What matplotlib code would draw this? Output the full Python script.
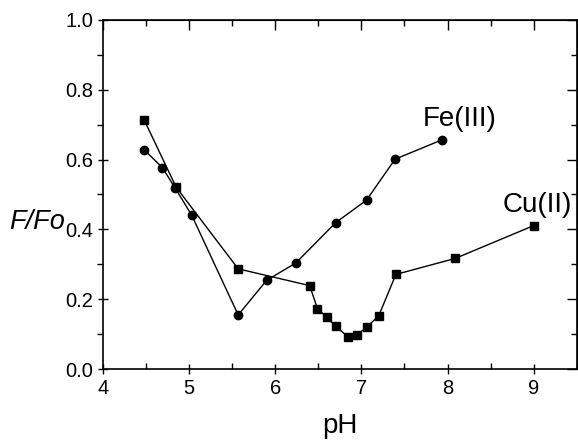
import matplotlib.pyplot as plt
from matplotlib.ticker import MultipleLocator

plt.rcParams['font.family'] = ['Liberation Sans', 'DejaVu Sans']

# Fe(III) quenching vs pH
fe_ph = [4.48, 4.69, 4.84, 5.03, 5.57, 5.90, 6.24, 6.70, 7.06, 7.39, 7.93]
fe_f = [0.628, 0.577, 0.518, 0.441, 0.155, 0.254, 0.304, 0.419, 0.484, 0.601, 0.656]

# Cu(II) quenching vs pH
cu_ph = [4.48, 4.85, 5.57, 6.40, 6.49, 6.60, 6.70, 6.85, 6.95, 7.06, 7.20, 7.40, 8.09, 9.00]
cu_f = [0.713, 0.521, 0.287, 0.239, 0.173, 0.148, 0.123, 0.091, 0.098, 0.120, 0.152, 0.271, 0.317, 0.411]

fig = plt.figure(figsize=(5.78, 4.42), dpi=100)
ax = fig.add_axes([0.178, 0.165, 0.82, 0.79])

ax.plot(fe_ph, fe_f, '-o', color='black', lw=1.0, ms=6)
ax.plot(cu_ph, cu_f, '-s', color='black', lw=1.0, ms=5.5)

ax.text(8.14, 0.715, 'Fe(III)', fontsize=20, ha='center', va='center')
ax.text(9.04, 0.469, 'Cu(II)', fontsize=20, ha='center', va='center')

ax.set_xlim(4, 9.5)
ax.set_ylim(0, 1.0)
ax.xaxis.set_major_locator(MultipleLocator(1))
ax.xaxis.set_minor_locator(MultipleLocator(0.5))
ax.yaxis.set_major_locator(MultipleLocator(0.2))
ax.yaxis.set_minor_locator(MultipleLocator(0.1))
ax.yaxis.set_major_formatter(lambda v, p: f'{v:.1f}')

ax.tick_params(axis='x', which='major', direction='inout', length=7, width=1, labelsize=14.5)
ax.tick_params(axis='x', which='minor', direction='in', length=4, width=1)
ax.tick_params(axis='y', which='major', direction='inout', length=7, width=1, labelsize=14.5)
ax.tick_params(axis='y', which='minor', direction='out', length=4, width=1)

top = ax.secondary_xaxis('top')
top.xaxis.set_major_locator(MultipleLocator(1))
top.xaxis.set_minor_locator(MultipleLocator(0.5))
top.tick_params(which='major', direction='in', length=7, width=1, labeltop=False)
top.tick_params(which='minor', direction='in', length=4, width=1)
right = ax.secondary_yaxis('right')
right.yaxis.set_major_locator(MultipleLocator(0.2))
right.yaxis.set_minor_locator(MultipleLocator(0.1))
right.tick_params(which='major', direction='in', length=7, width=1, labelright=False)
right.tick_params(which='minor', direction='in', length=4, width=1)

for s in ax.spines.values():
    s.set_linewidth(1.2)

ax.set_xlabel('pH', fontsize=20, labelpad=11)
ax.set_ylabel('F/Fo', fontsize=19.5, style='italic', rotation=0, ha='center', va='center')
ax.yaxis.set_label_coords(-0.139, 0.42)

fig.savefig('out.png', dpi=100)
